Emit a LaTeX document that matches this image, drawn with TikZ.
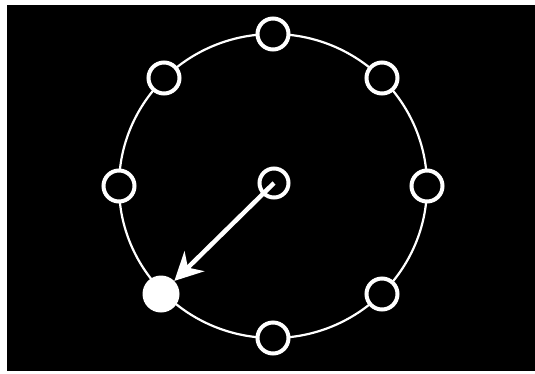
\documentclass[tikz,border=0pt]{standalone}
\usetikzlibrary{arrows.meta}
\begin{document}
\begin{tikzpicture}[x=1pt,y=-1pt,
  ring/.style={circle,draw=white,line width=4pt,fill=black,minimum size=31pt,inner sep=0pt},
  filled/.style={circle,fill=white,minimum size=37pt,inner sep=0pt},
  pointer/.style={white,line width=4.5pt,-{Stealth[length=28pt,width=28pt,inset=9pt]}}]
\useasboundingbox (0,0) rectangle (535,373);
\fill[white] (0,0) rectangle (535,373);
\fill[black] (7,5) rectangle (535,371);
\coordinate (o) at (273,186);
\draw[white,line width=2.2pt] (o) ellipse [x radius=154, y radius=152];
\node[ring] (n0) at (273,34) {};
\node[ring] (n1) at (382,78) {};
\node[ring] (n2) at (427,186) {};
\node[ring] (n3) at (382,294) {};
\node[ring] (n4) at (273,338) {};
\node[filled] (n5) at (161,294) {};
\node[ring] (n6) at (119,186) {};
\node[ring] (n7) at (164,78) {};
\node[ring,minimum size=29pt] (c) at (274,183) {};
\draw[pointer] (c.center) -- (n5);
\end{tikzpicture}
\end{document}
